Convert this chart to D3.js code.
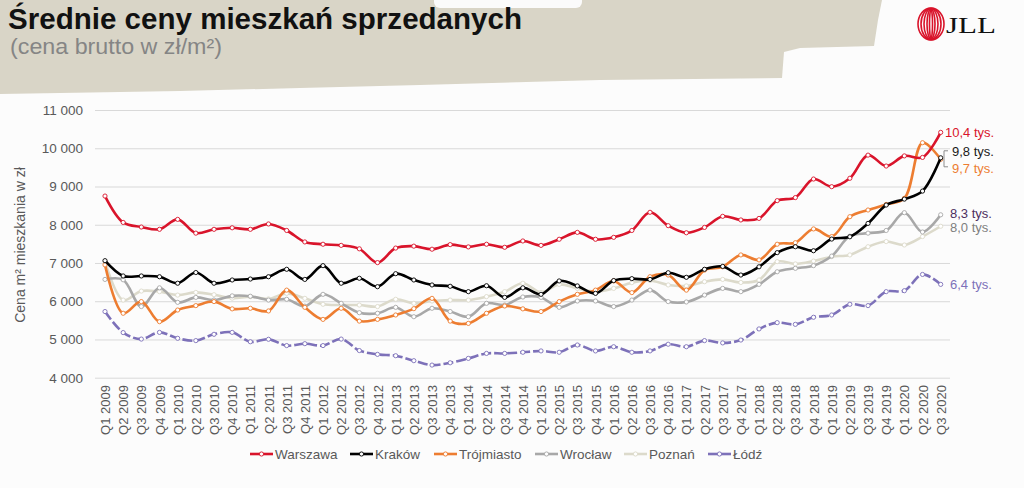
<!DOCTYPE html>
<html><head><meta charset="utf-8">
<script src="https://cdn.jsdelivr.net/npm/d3@7"></script>
<style>
body{margin:0;background:#fcfcfc;}
svg{display:block;font-family:"Liberation Sans",Arial,sans-serif;}
</style></head>
<body><svg id="c" width="1024" height="488"></svg>
<script>
const quarters = [];
["2009","2010","2011","2012","2013","2014","2015","2016","2017","2018","2019","2020"].forEach(y=>{
  ["Q1","Q2","Q3","Q4"].forEach(q=>quarters.push(q+" "+y));
});
quarters.splice(47);

const warszawa = [8750,8060,7940,7880,8140,7780,7880,7920,7880,8020,7850,7550,7490,7460,7370,7010,7390,7440,7360,7480,7420,7490,7410,7575,7460,7620,7800,7620,7670,7850,8325,7975,7790,7930,8220,8125,8165,8630,8710,9195,8995,9215,9820,9535,9800,9760,10415];
const krakow = [7060,6660,6660,6640,6470,6750,6470,6555,6580,6640,6835,6570,6930,6470,6600,6380,6720,6555,6425,6390,6250,6405,6100,6350,6180,6530,6400,6205,6540,6590,6570,6745,6625,6835,6910,6685,6900,7270,7425,7320,7625,7685,8035,8515,8670,8880,9750];
const trojmiasto = [6950,5685,5990,5465,5770,5885,5990,5800,5815,5745,6290,5840,5525,5815,5480,5525,5640,5805,6075,5480,5420,5685,5875,5800,5730,5990,6180,6290,6530,6225,6640,6685,6290,6815,6900,7210,7080,7490,7530,7890,7690,8210,8385,8530,8690,10145,9710];
const wroclaw = [6570,6560,5860,6350,5970,6100,6030,6140,6130,6030,6050,5870,6180,5945,5700,5685,5840,5595,5815,5730,5595,5945,5900,6110,6100,5840,6005,6005,5860,6030,6290,5990,5980,6160,6335,6250,6440,6770,6860,6930,7180,7700,7780,7850,8315,7810,8260];
const poznan = [7035,6030,6265,6250,6160,6230,6170,6080,6120,6060,6205,6075,5920,5900,5900,5860,6050,5945,6005,6030,6030,6120,6250,6470,6230,6440,6335,6250,6335,6485,6540,6425,6400,6510,6570,6490,6555,7035,6975,7050,7165,7210,7425,7560,7470,7690,7960];
const lodz = [5730,5180,5010,5185,5030,4970,5135,5185,4940,5005,4840,4890,4840,5010,4710,4610,4575,4445,4330,4390,4505,4635,4635,4665,4700,4665,4855,4700,4810,4665,4700,4875,4810,4970,4910,4985,5275,5440,5395,5580,5640,5920,5885,6250,6275,6700,6440];

const seriesNames = ["Warszawa","Kraków","Trójmiasto","Wrocław","Poznań","Łódź"];
const seriesValues = [warszawa,krakow,trojmiasto,wroclaw,poznan,lodz];
const yTicks = [4000,5000,6000,7000,8000,9000,10000,11000];
const endLabels = ["10,4 tys.","9,8 tys.","9,7 tys.","8,3 tys.","8,0 tys.","6,4 tys."];

const colors = ["#d9142b","#000000","#ed7d31","#a8a8a8","#dcdacb","#7d71b9"];
const labelColors = ["#d9142b","#1a1a1a","#ed7d31","#4d2f60","#7f7f7f","#7d71b9"];
const labelDy = [0,-6,9,-1.5,1,0];

const svg = d3.select("#c");

// header brush background
svg.append("path")
  .attr("d","M0,0 L882,0 L878,20 L874,46 L800,48 L784,52 L782,78 L600,80 L420,85 L300,88 L180,91 L60,93 L0,94 Z")
  .attr("fill","#d9d5c7");
svg.append("rect").attr("x",434).attr("y",-8).attr("width",148).attr("height",16).attr("rx",6).attr("fill","#fbfbfb");

svg.append("text").attr("x",8).attr("y",29)
  .attr("font-size",29).attr("font-weight","bold").attr("fill","#111")
  .attr("textLength",514).attr("lengthAdjust","spacingAndGlyphs")
  .text("Średnie ceny mieszkań sprzedanych");
svg.append("text").attr("x",10).attr("y",54)
  .attr("font-size",22).attr("fill","#858585")
  .attr("textLength",212).attr("lengthAdjust","spacingAndGlyphs")
  .text("(cena brutto w zł/m²)");

// JLL logo
const logo = svg.append("g").attr("transform","translate(931,24)");
[13,10,7,4,1.5].forEach((rx,i)=>{
  logo.append("ellipse").attr("rx",rx).attr("ry",16-i*0.4).attr("fill","none")
    .attr("stroke","#d9142b").attr("stroke-width",1.6);
});
svg.append("text").attr("x",946).attr("y",33).attr("font-family","'Liberation Serif','DejaVu Serif',serif")
  .attr("font-size",24).attr("fill","#111").attr("textLength",50).attr("lengthAdjust","spacingAndGlyphs").text("JLL");

const x = d3.scalePoint().domain(quarters).range([105,940.7]);
const y = d3.scaleLinear().domain([4000,11000]).range([377.7,110]);

// gridlines
svg.append("g").attr("transform","translate(95,0)")
  .call(d3.axisLeft(y).tickValues(yTicks).tickSize(-855).tickFormat(""))
  .call(g=>{g.select(".domain").remove();g.selectAll("line").attr("stroke","#d9d9d9").attr("stroke-width",1);});

// y labels
svg.append("g").attr("transform","translate(95,0)")
  .call(d3.axisLeft(y).tickValues(yTicks).tickSize(0).tickPadding(12)
    .tickFormat(d=>d3.format(",")(d).replace(/,/g," ")))
  .call(g=>{g.select(".domain").remove();g.selectAll("text").attr("font-size",13.5).attr("fill","#595959").attr("font-family","'Liberation Sans',Arial,sans-serif");});

svg.append("text").attr("transform","translate(25,245) rotate(-90)")
  .attr("text-anchor","middle").attr("font-size",14).attr("fill","#595959")
  .text("Cena m² mieszkania w zł");

// x labels
svg.append("g").attr("transform","translate(0,378)")
  .call(d3.axisBottom(x).tickSize(0).tickPadding(0))
  .call(g=>{g.select(".domain").remove();
    g.selectAll("text").attr("font-size",13).attr("fill","#595959").attr("font-family","'Liberation Sans',Arial,sans-serif")
      .attr("text-anchor","end").attr("transform","rotate(-90)").attr("x",-7).attr("y",0).attr("dy","0.35em");});

const line = d3.line().x((d,i)=>x(quarters[i])).y(d=>y(d)).curve(d3.curveCatmullRom.alpha(0.5));

// draw order: back to front
const order = [4,3,5,2,1,0];
order.forEach(si=>{
  const g = svg.append("g");
  g.append("path").datum(seriesValues[si]).attr("d",line).attr("fill","none")
    .attr("stroke",colors[si]).attr("stroke-width",2.6).attr("stroke-linejoin","round")
    .attr("stroke-dasharray", si===5 ? "10,3" : null);
  g.selectAll("circle").data(seriesValues[si]).join("circle")
    .attr("cx",(d,i)=>x(quarters[i])).attr("cy",d=>y(d)).attr("r",2.1)
    .attr("fill","#ffffff").attr("stroke",colors[si]).attr("stroke-width",0.9);
});

// end labels
const last = quarters.length-1;
const lx = [945,952,952,950,950,950];
seriesValues.forEach((vals,si)=>{
  svg.append("text").attr("x",lx[si]).attr("y",y(vals[last])+labelDy[si]).attr("dy","0.35em")
    .attr("font-size",13).attr("fill",labelColors[si]).text(endLabels[si]);
});
// bracket for Kraków / Trójmiasto
const yb = y(krakow[last]);
svg.append("path").attr("d",`M948,${yb-7} L944,${yb-7} L944,${yb+9} L948,${yb+9}`)
  .attr("fill","none").attr("stroke","#8c8c8c").attr("stroke-width",1);

// legend
const legX = [250,350,434,535,624,708];
seriesNames.forEach((n,i)=>{
  const g = svg.append("g").attr("transform",`translate(${legX[i]},454)`);
  g.append("line").attr("x1",0).attr("x2",23).attr("stroke",colors[i]).attr("stroke-width",2.6);
  g.append("circle").attr("cx",11.5).attr("r",2.1).attr("fill","#fff").attr("stroke",colors[i]).attr("stroke-width",0.9);
  g.append("text").attr("x",25).attr("dy","0.35em").attr("font-size",13.5).attr("fill","#595959").text(n);
});
</script></body></html>
